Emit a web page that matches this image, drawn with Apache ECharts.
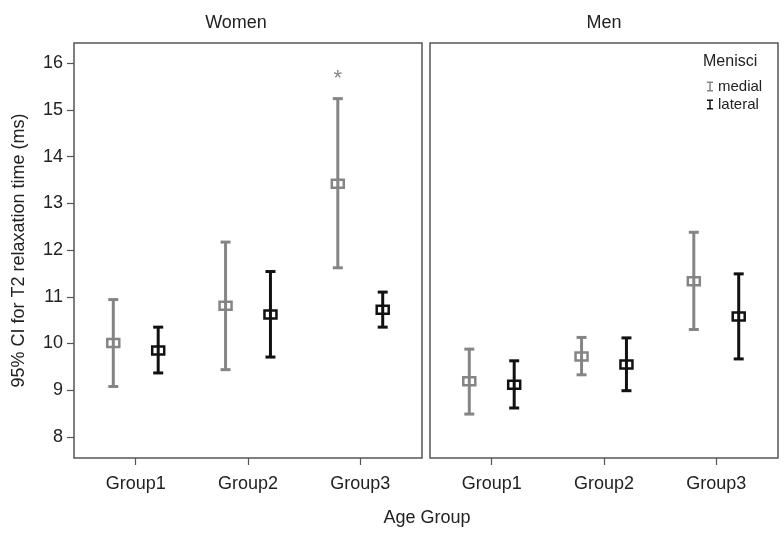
<!DOCTYPE html>
<html>
<head>
<meta charset="utf-8">
<script src="https://cdn.jsdelivr.net/npm/echarts@6/dist/echarts.min.js"></script>
<style>html,body{margin:0;padding:0;background:#fff;}#c{width:784px;height:534px;}</style>
</head>
<body>
<div id="c"></div>
<script>
const groups = ['Group1', 'Group2', 'Group3'];
const panels = ['Women', 'Men'];
const yTicks = [8, 9, 10, 11, 12, 13, 14, 15, 16];

const womenMedialLow  = [9.08, 9.44, 11.62];
const womenMedialMean = [10.01, 10.81, 13.42];
const womenMedialHigh = [10.94, 12.17, 15.24];
const womenLateralLow  = [9.37, 9.71, 10.35];
const womenLateralMean = [9.85, 10.62, 10.72];
const womenLateralHigh = [10.35, 11.54, 11.10];

const menMedialLow  = [8.49, 9.33, 10.30];
const menMedialMean = [9.19, 9.72, 11.33];
const menMedialHigh = [9.88, 10.13, 12.38];
const menLateralLow  = [8.62, 8.99, 9.67];
const menLateralMean = [9.12, 9.55, 10.58];
const menLateralHigh = [9.63, 10.12, 11.49];

const asteriskPoint = [3, 15.75]; // Women, Group3, medial

const MEDIAL = '#858585', LATERAL = '#111111';
const FONT = 'Liberation Sans, Arial, sans-serif';

function rows(lo, mean, hi) {
  return groups.map((g, i) => [i + 1, lo[i], mean[i], hi[i]]);
}
function makeRender(offset) {
  return function (params, api) {
    const x = api.value(0) + offset;
    const lo = api.coord([x, api.value(1)]);
    const mid = api.coord([x, api.value(2)]);
    const hi = api.coord([x, api.value(3)]);
    const color = api.visual('color');
    const st = { stroke: color, lineWidth: 3, fill: null };
    const cap = 5, rw = 6, rh = 4;
    return {
      type: 'group',
      children: [
        { type: 'line', shape: { x1: hi[0], y1: hi[1], x2: lo[0], y2: lo[1] }, style: st },
        { type: 'line', shape: { x1: hi[0] - cap, y1: hi[1], x2: hi[0] + cap, y2: hi[1] }, style: st },
        { type: 'line', shape: { x1: lo[0] - cap, y1: lo[1], x2: lo[0] + cap, y2: lo[1] }, style: st },
        { type: 'rect', shape: { x: mid[0] - rw, y: mid[1] - rh, width: rw * 2, height: rh * 2 },
          style: { stroke: color, lineWidth: 2.5, fill: null } }
      ]
    };
  };
}
function errSeries(name, idx, data, offset, color) {
  return {
    name: name, type: 'custom', xAxisIndex: idx, yAxisIndex: idx,
    itemStyle: { color: color },
    renderItem: makeRender(offset),
    encode: { x: 0, y: [1, 2, 3] },
    data: data
  };
}

const xAxisBase = (idx) => ({
  type: 'value', gridIndex: idx, min: 0.45, max: 3.55,
  axisLine: { show: false },
  splitLine: { show: false },
  axisTick: { show: true, inside: false, length: 7, customValues: [1, 2, 3],
              lineStyle: { color: '#555', width: 1.2 } },
  axisLabel: { customValues: [1, 2, 3], margin: 17, fontSize: 18, color: '#222', fontFamily: FONT,
               formatter: v => groups[Math.round(v) - 1] }
});

const option = {
  backgroundColor: '#fff',
  animation: false,
  grid: [
    { left: 74, top: 43, width: 348, height: 415, show: true, borderColor: '#555', borderWidth: 1.5, backgroundColor: 'transparent' },
    { left: 430, top: 43, width: 348, height: 415, show: true, borderColor: '#555', borderWidth: 1.5, backgroundColor: 'transparent' }
  ],
  xAxis: [xAxisBase(0), xAxisBase(1)],
  yAxis: [
    { type: 'value', gridIndex: 0, min: 7.55, max: 16.43,
      axisLine: { show: false }, splitLine: { show: false },
      axisTick: { show: true, length: 7, customValues: yTicks, lineStyle: { color: '#555', width: 1.2 } },
      axisLabel: { customValues: yTicks, margin: 11, fontSize: 18, color: '#222', fontFamily: FONT },
      name: '95% CI for T2 relaxation time (ms)', nameLocation: 'middle', nameGap: 46, nameRotate: 90,
      nameTextStyle: { fontSize: 18, color: '#222', fontFamily: FONT } },
    { type: 'value', gridIndex: 1, min: 7.55, max: 16.43,
      axisLine: { show: false }, splitLine: { show: false },
      axisTick: { show: false }, axisLabel: { show: false } }
  ],
  legend: {
    orient: 'vertical', left: 702, top: 74, itemGap: 3, itemWidth: 6, itemHeight: 10,
    data: ['medial', 'lateral'],
    icon: 'path://M0,0 H6 V1.5 H3.75 V8.5 H6 V10 H0 V8.5 H2.25 V1.5 H0 Z',
    textStyle: { fontSize: 15, color: '#222', fontFamily: FONT, padding: [0, 0, 0, 0] }
  },
  graphic: [
    { type: 'text', x: 236, y: 23, style: { text: panels[0], fontSize: 18, fill: '#222', fontFamily: FONT, textAlign: 'center', textVerticalAlign: 'middle' } },
    { type: 'text', x: 604, y: 23, style: { text: panels[1], fontSize: 18, fill: '#222', fontFamily: FONT, textAlign: 'center', textVerticalAlign: 'middle' } },
    { type: 'text', x: 427, y: 518, style: { text: 'Age Group', fontSize: 18, fill: '#222', fontFamily: FONT, textAlign: 'center', textVerticalAlign: 'middle' } },
    { type: 'text', x: 703, y: 62, style: { text: 'Menisci', fontSize: 16, fill: '#222', fontFamily: FONT, textAlign: 'left', textVerticalAlign: 'middle' } }
  ],
  series: [
    errSeries('medial', 0, rows(womenMedialLow, womenMedialMean, womenMedialHigh), -0.2, MEDIAL),
    errSeries('lateral', 0, rows(womenLateralLow, womenLateralMean, womenLateralHigh), 0.2, LATERAL),
    errSeries('medial', 1, rows(menMedialLow, menMedialMean, menMedialHigh), -0.2, MEDIAL),
    errSeries('lateral', 1, rows(menLateralLow, menLateralMean, menLateralHigh), 0.2, LATERAL),
    {
      name: 'asterisk', type: 'scatter', xAxisIndex: 0, yAxisIndex: 0, symbolSize: 0,
      data: [[asteriskPoint[0] - 0.2, asteriskPoint[1]]],
      label: { show: true, position: 'inside', formatter: '*', fontSize: 22, color: '#666', fontFamily: FONT, offset: [0, 4] }
    }
  ]
};
const chart = echarts.init(document.getElementById('c'), null, { renderer: 'canvas' });
chart.setOption(option);
</script>
</body>
</html>
